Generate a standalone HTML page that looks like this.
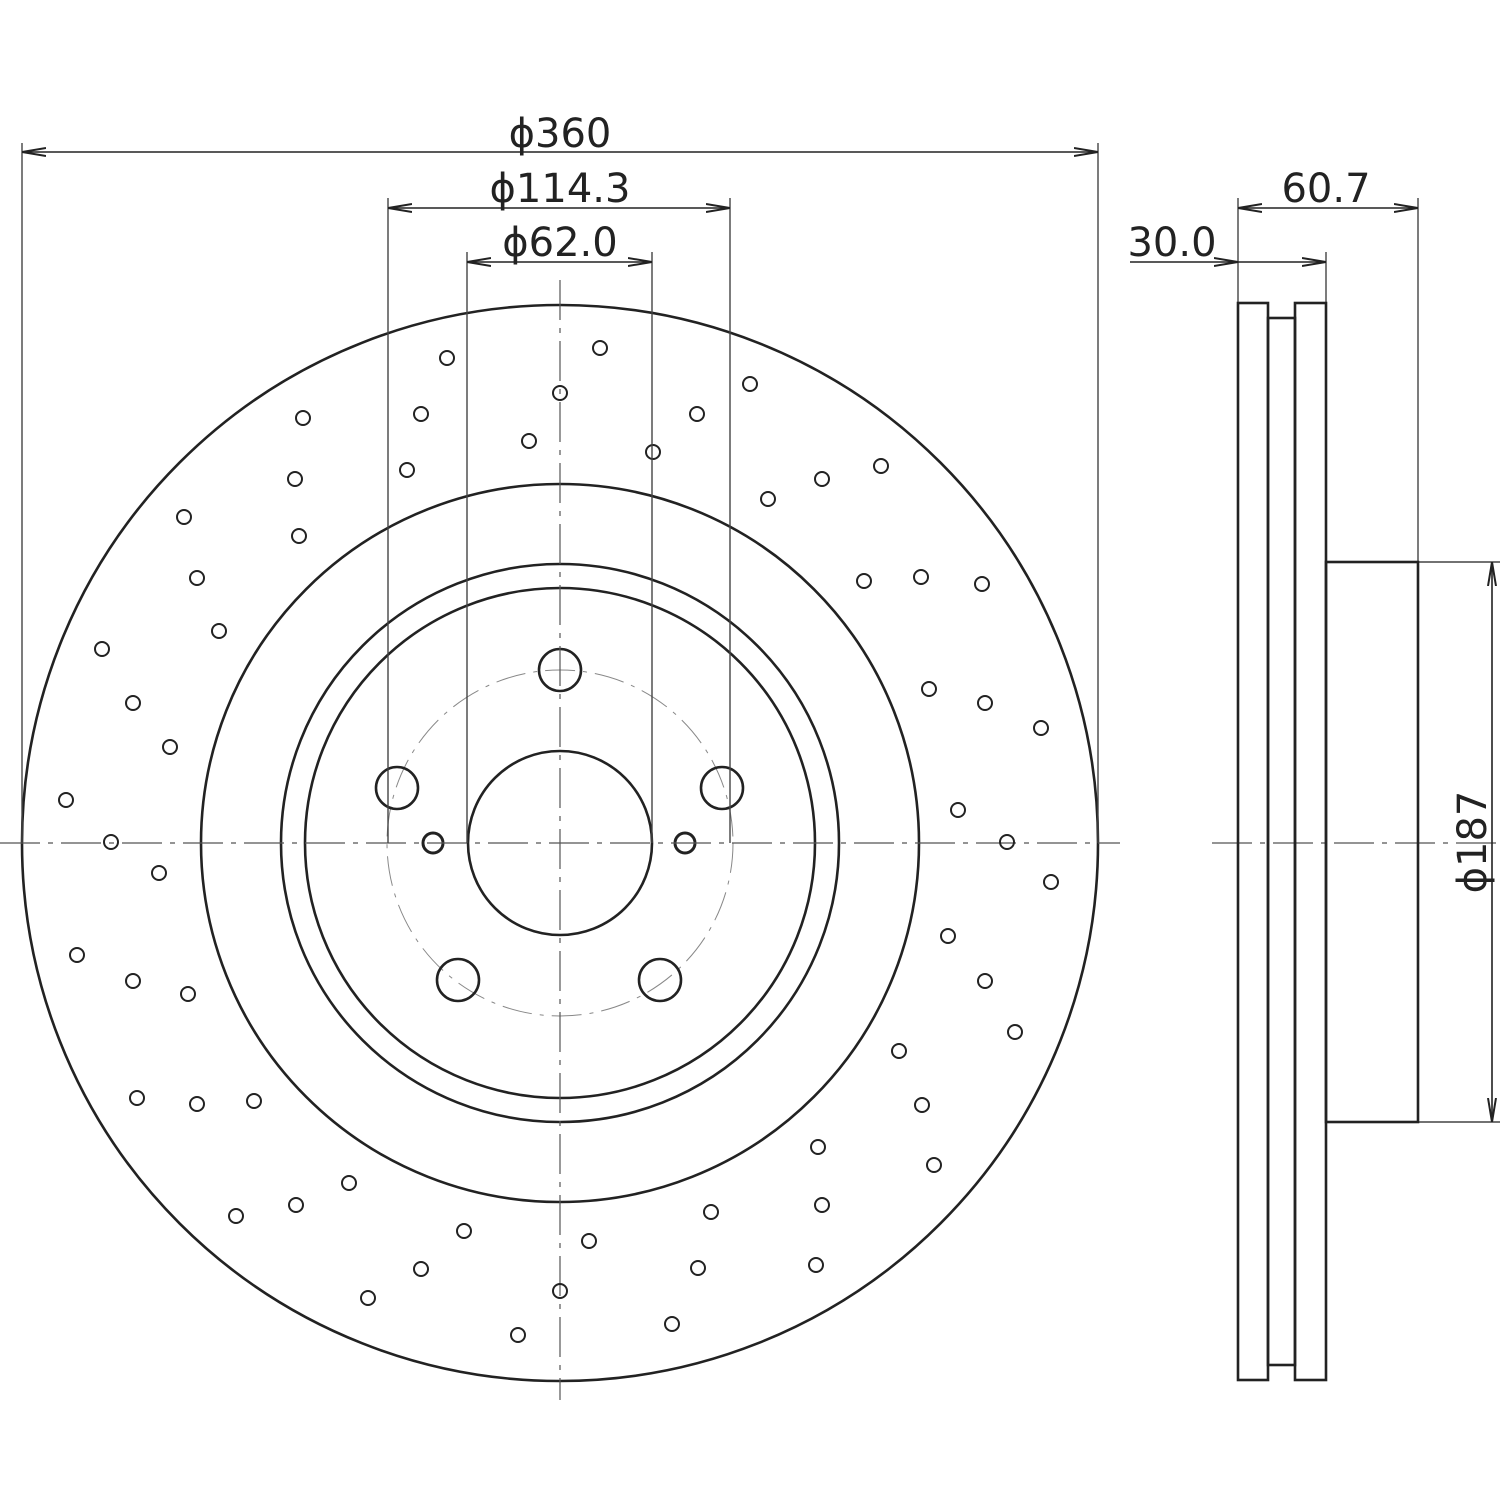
<!DOCTYPE html>
<html><head><meta charset="utf-8"><style>
html,body{margin:0;padding:0;background:#fff;}
svg{display:block}
text{font-family:"DejaVu Sans","Liberation Sans",sans-serif;font-size:40px;fill:#222}
</style></head><body>
<svg width="1500" height="1500" viewBox="0 0 1500 1500" xmlns="http://www.w3.org/2000/svg">
<defs>
<marker id="a" markerWidth="24" markerHeight="10" refX="24" refY="5" orient="auto-start-reverse" markerUnits="userSpaceOnUse">
<path d="M0,1 L24,5 L0,9" fill="none" stroke="#222" stroke-width="2"/>
</marker>
</defs>
<g fill="none" stroke="#222" stroke-width="2.6">
<circle cx="560" cy="843" r="538"/>
<circle cx="560" cy="843" r="359"/>
<circle cx="560" cy="843" r="279"/>
<circle cx="560" cy="843" r="255"/>
<circle cx="560" cy="843" r="92"/>
<circle cx="560" cy="843" r="173" stroke-width="1" stroke="#888" stroke-dasharray="30,8,4,8"/>
<circle cx="560" cy="670" r="21"/>
<circle cx="397" cy="788" r="21"/>
<circle cx="722" cy="788" r="21"/>
<circle cx="458" cy="980" r="21"/>
<circle cx="660" cy="980" r="21"/>
<circle cx="433" cy="843" r="10" stroke-width="3"/>
<circle cx="685" cy="843" r="10" stroke-width="3"/>
<g stroke-width="1.2" stroke="#555" stroke-dasharray="40,8,5,8">
<line x1="0" y1="843" x2="1120" y2="843"/>
<line x1="1212" y1="843" x2="1500" y2="843"/>
<line x1="560" y1="280" x2="560" y2="1400"/>
</g>
<g stroke-width="2">
<circle cx="600" cy="348" r="7"/><circle cx="447" cy="358" r="7"/><circle cx="750" cy="384" r="7"/><circle cx="560" cy="393" r="7"/>
<circle cx="303" cy="418" r="7"/><circle cx="421" cy="414" r="7"/><circle cx="697" cy="414" r="7"/><circle cx="529" cy="441" r="7"/>
<circle cx="653" cy="452" r="7"/><circle cx="407" cy="470" r="7"/><circle cx="295" cy="479" r="7"/><circle cx="822" cy="479" r="7"/>
<circle cx="881" cy="466" r="7"/><circle cx="768" cy="499" r="7"/><circle cx="184" cy="517" r="7"/><circle cx="299" cy="536" r="7"/>
<circle cx="197" cy="578" r="7"/><circle cx="864" cy="581" r="7"/><circle cx="921" cy="577" r="7"/><circle cx="982" cy="584" r="7"/>
<circle cx="219" cy="631" r="7"/><circle cx="102" cy="649" r="7"/><circle cx="929" cy="689" r="7"/><circle cx="985" cy="703" r="7"/>
<circle cx="133" cy="703" r="7"/><circle cx="1041" cy="728" r="7"/><circle cx="170" cy="747" r="7"/><circle cx="66" cy="800" r="7"/>
<circle cx="958" cy="810" r="7"/><circle cx="111" cy="842" r="7"/><circle cx="1007" cy="842" r="7"/><circle cx="159" cy="873" r="7"/>
<circle cx="1051" cy="882" r="7"/><circle cx="948" cy="936" r="7"/><circle cx="77" cy="955" r="7"/><circle cx="133" cy="981" r="7"/>
<circle cx="985" cy="981" r="7"/><circle cx="188" cy="994" r="7"/><circle cx="1015" cy="1032" r="7"/><circle cx="899" cy="1051" r="7"/>
<circle cx="137" cy="1098" r="7"/><circle cx="197" cy="1104" r="7"/><circle cx="254" cy="1101" r="7"/><circle cx="922" cy="1105" r="7"/>
<circle cx="818" cy="1147" r="7"/><circle cx="934" cy="1165" r="7"/><circle cx="349" cy="1183" r="7"/><circle cx="296" cy="1205" r="7"/>
<circle cx="822" cy="1205" r="7"/><circle cx="236" cy="1216" r="7"/><circle cx="711" cy="1212" r="7"/><circle cx="464" cy="1231" r="7"/>
<circle cx="589" cy="1241" r="7"/><circle cx="421" cy="1269" r="7"/><circle cx="698" cy="1268" r="7"/><circle cx="816" cy="1265" r="7"/>
<circle cx="560" cy="1291" r="7"/><circle cx="368" cy="1298" r="7"/><circle cx="672" cy="1324" r="7"/><circle cx="518" cy="1335" r="7"/>
</g>
<g stroke-width="1.4" stroke="#444">
<line x1="22" y1="143" x2="22" y2="843"/>
<line x1="1098" y1="143" x2="1098" y2="843"/>
<line x1="388" y1="198" x2="388" y2="843"/>
<line x1="730" y1="198" x2="730" y2="843"/>
<line x1="467" y1="252" x2="467" y2="843"/>
<line x1="652" y1="252" x2="652" y2="843"/>
<line x1="1238" y1="198" x2="1238" y2="303"/>
<line x1="1418" y1="198" x2="1418" y2="562"/>
<line x1="1326" y1="252" x2="1326" y2="303"/>
<line x1="1418" y1="562" x2="1500" y2="562"/>
<line x1="1418" y1="1122" x2="1500" y2="1122"/>
</g>
<g stroke-width="1.6">
<line x1="22" y1="152" x2="1098" y2="152" marker-start="url(#a)" marker-end="url(#a)"/>
<line x1="388" y1="208" x2="730" y2="208" marker-start="url(#a)" marker-end="url(#a)"/>
<line x1="467" y1="262" x2="652" y2="262" marker-start="url(#a)" marker-end="url(#a)"/>
<line x1="1238" y1="208" x2="1418" y2="208" marker-start="url(#a)" marker-end="url(#a)"/>
<line x1="1130" y1="262" x2="1238" y2="262" marker-end="url(#a)"/>
<line x1="1238" y1="262" x2="1326" y2="262" marker-end="url(#a)"/>
<line x1="1492" y1="562" x2="1492" y2="1122" marker-start="url(#a)" marker-end="url(#a)"/>
</g>
<rect x="1238" y="303" width="30" height="1077"/>
<rect x="1295" y="303" width="31" height="1077"/>
<rect x="1268" y="318" width="27" height="1047"/>
<rect x="1326" y="562" width="92" height="560"/>
</g>
<text x="560" y="147" text-anchor="middle">ϕ360</text>
<text x="560" y="202" text-anchor="middle">ϕ114.3</text>
<text x="560" y="256" text-anchor="middle">ϕ62.0</text>
<text x="1326" y="202" text-anchor="middle">60.7</text>
<text x="1172" y="256" text-anchor="middle">30.0</text>
<text transform="translate(1486,842) rotate(-90)" text-anchor="middle">ϕ187</text>
</svg>
</body></html>
